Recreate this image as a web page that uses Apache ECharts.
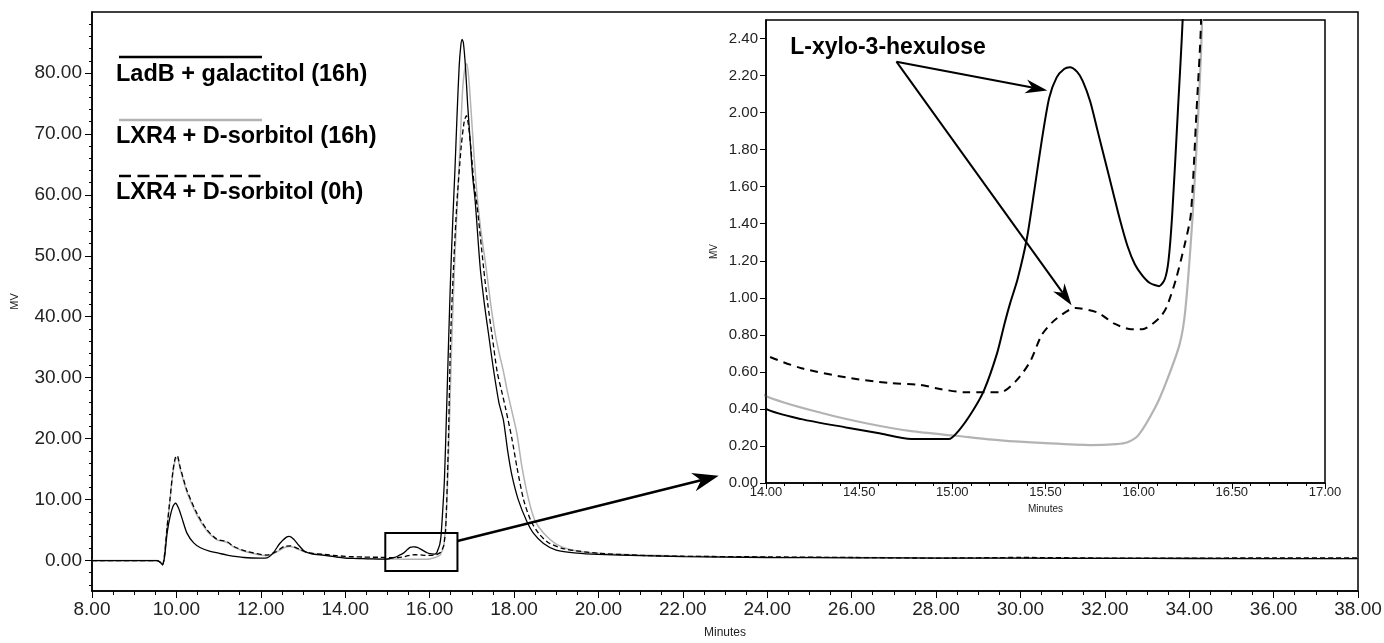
<!DOCTYPE html>
<html>
<head>
<meta charset="utf-8">
<script src="https://cdn.jsdelivr.net/npm/echarts@6/dist/echarts.min.js"></script>
<style>
  html, body { margin: 0; padding: 0; background: #fff; }
  #main { width: 1384px; height: 643px; }
</style>
</head>
<body>
<div id="main"></div>
<script>
// chromatogram traces, [minutes, mV]
var ladbGal16h = [
  [8.0,0],[9.55,0],[9.62,-0.3],[9.67,-0.7],[9.72,0.6],[9.78,4.5],[9.85,7.2],[9.92,8.9],[9.98,9.4],[10.05,8.6],
  [10.13,7.0],[10.25,4.5],[10.41,2.9],[10.57,2.1],[10.8,1.5],[11.0,1.2],[11.2,0.9],[11.6,0.5],[12.0,0.4],[12.15,0.45],
  [12.3,1.3],[12.45,2.8],[12.6,3.8],[12.68,3.95],[12.78,3.5],[12.9,2.5],[13.02,1.6],[13.2,1.1],[13.5,0.85],[13.8,0.55],
  [14.0,0.40],[14.19,0.345],[14.43,0.30],[14.6,0.27],[14.78,0.237],[14.98,0.237],[15.04,0.29],[15.11,0.39],[15.17,0.50],
  [15.24,0.70],[15.28,0.86],[15.31,0.97],[15.35,1.1],[15.4,1.32],[15.44,1.58],[15.48,1.85],[15.52,2.08],[15.56,2.19],
  [15.6,2.235],[15.63,2.245],[15.67,2.22],[15.7,2.17],[15.74,2.06],[15.78,1.9],[15.82,1.74],[15.86,1.58],[15.9,1.42],
  [15.94,1.28],[15.98,1.18],[16.02,1.12],[16.06,1.08],[16.11,1.063],[16.14,1.1],[16.16,1.2],[16.18,1.45],[16.21,2.0],
  [16.24,2.6],[16.27,4],[16.3,7],[16.35,13],[16.4,24],[16.45,36],
  [16.5,47],[16.55,56],[16.6,64],[16.65,73],[16.7,81],[16.74,84.5],[16.77,85.5],[16.8,85],[16.85,81],[16.9,75],
  [16.96,69],[17.02,63],[17.08,59],[17.2,48],[17.3,42],[17.4,37],[17.5,32],[17.64,26],[17.75,23],[17.85,18],
  [17.95,14],[18.1,10],[18.3,6.5],[18.46,4.5],[18.7,2.8],[19.0,1.7],[19.5,1.2],[20,1.0],[21,0.8],[22,0.65],
  [24,0.5],[26,0.45],[28,0.4],[30,0.38],[32,0.35],[34,0.33],[36,0.3],[38,0.3]
];
var lxrSorb16h = [
  [8,0],[9.55,0],[9.62,-0.3],[9.67,-0.7],[9.72,1.0],[9.78,5.5],[9.85,10],[9.92,14.5],[9.98,16.7],[10.02,16.8],
  [10.09,15.0],[10.25,11.2],[10.49,7.4],[10.73,4.8],[10.96,3.4],[11.1,3.2],[11.25,2.8],[11.36,2.2],[11.67,1.4],
  [12.15,0.8],[12.35,1.3],[12.55,2.1],[12.7,2.3],[12.9,1.8],[13.1,1.3],[13.5,0.9],[13.8,0.62],[14.0,0.47],
  [14.31,0.375],[14.55,0.32],[14.78,0.28],[15.02,0.255],[15.26,0.23],[15.5,0.215],[15.74,0.205],[15.88,0.21],
  [15.94,0.22],[16.0,0.26],[16.09,0.41],[16.15,0.55],[16.22,0.75],[16.25,0.93],[16.29,1.45],[16.32,2.0],[16.34,2.5],
  [16.4,8],[16.45,18],[16.5,30],[16.53,37],[16.6,50],[16.66,59],[16.72,68],[16.78,77],[16.83,80.5],[16.88,81.5],
  [16.93,79],[17.0,72],[17.1,62],[17.2,55],[17.34,48],[17.45,42],[17.56,37],[17.65,34],[17.75,31],[17.85,27.5],
  [17.95,24.5],[18.07,20.8],[18.19,15.3],[18.35,9.9],[18.5,6.5],[18.7,4.5],[19.0,2.7],[19.4,1.7],[20,1.2],[21,0.9],
  [22,0.75],[24,0.55],[26,0.5],[28,0.45],[30,0.42],[32,0.4],[34,0.38],[36,0.35],[38,0.35]
];
var lxrSorb0h = [
  [8,0],[9.55,0],[9.62,-0.3],[9.67,-0.7],[9.72,1.0],[9.78,5.5],[9.85,10.2],[9.92,14.8],[9.98,17.0],[10.02,17.2],
  [10.09,15.3],[10.25,11.5],[10.49,7.7],[10.73,5.0],[10.96,3.5],[11.2,3.1],[11.36,2.3],[11.67,1.5],[12.15,0.9],
  [12.35,1.4],[12.55,2.3],[12.7,2.4],[12.9,1.9],[13.1,1.3],[13.5,1.0],[13.8,0.8],[14.0,0.69],[14.19,0.62],
  [14.43,0.57],[14.66,0.54],[14.83,0.53],[14.92,0.51],[15.07,0.49],[15.26,0.49],[15.35,0.56],[15.42,0.66],
  [15.48,0.8],[15.55,0.88],[15.66,0.945],[15.78,0.92],[15.87,0.86],[15.96,0.83],[16.02,0.83],[16.11,0.89],
  [16.15,0.95],[16.2,1.1],[16.25,1.3],[16.28,1.45],[16.31,2.0],[16.335,2.5],[16.38,5],[16.44,18],[16.5,37],
  [16.58,50],[16.65,59],[16.75,68],[16.82,72],[16.87,73],[16.92,71.5],[16.98,67.5],[17.05,62],[17.12,58.5],
  [17.28,48],[17.38,42],[17.48,37],[17.6,31],[17.7,28],[17.8,25],[17.95,20],[18.07,15.3],[18.23,9.9],[18.4,6.5],
  [18.58,4.5],[18.8,3],[19.2,1.9],[20,1.2],[21,0.85],[22,0.7],[24,0.6],[26,0.5],[28,0.4],[30,0.5],[32,0.4],
  [34,0.38],[36,0.45],[38,0.45]
];

var seriesNames = ['LadB + galactitol (16h)', 'LXR4 + D-sorbitol (16h)', 'LXR4 + D-sorbitol (0h)'];
var mainYLabels = [0, 10, 20, 30, 40, 50, 60, 70, 80];
var insetYLabels = [0, 0.2, 0.4, 0.6, 0.8, 1.0, 1.2, 1.4, 1.6, 1.8, 2.0, 2.2, 2.4];
var peakLabel = 'L-xylo-3-hexulose';

var mainMinorY = [];
for (var v = -4; v <= 88; v += 2) mainMinorY.push(v);

var FONT = "'Liberation Sans', Arial, sans-serif";
function fmt2(v) { return v.toFixed(2); }

var myChart = echarts.init(document.getElementById('main'));

function lineSeries(name, data, grid, color, type, width) {
  return {
    name: name,
    type: 'line',
    xAxisIndex: grid,
    yAxisIndex: grid,
    data: data,
    showSymbol: false,
    smooth: 0.25,
    clip: true,
    animation: false,
    lineStyle: { color: color, width: width, type: type },
    z: grid === 1 ? 5 : 2
  };
}

var option = {
  animation: false,
  grid: [
    { left: 92, right: 26, top: 12, bottom: 52, outerBoundsMode: 'none', containLabel: false,
      show: true, borderColor: '#000', borderWidth: 1.5, backgroundColor: '#fff' },
    { left: 766, right: 59, top: 20, bottom: 160, outerBoundsMode: 'none', containLabel: false,
      show: true, borderColor: '#000', borderWidth: 1.5, backgroundColor: '#fff', z: 3 }
  ],
  xAxis: [
    {
      type: 'value', gridIndex: 0, min: 8, max: 38, interval: 2,
      axisLine: { onZero: false, lineStyle: { color: '#000', width: 1.5 } },
      axisTick: { length: 7, lineStyle: { color: '#000' } },
      minorTick: { show: true, splitNumber: 4, length: 4, lineStyle: { color: '#000' } },
      axisLabel: { formatter: fmt2, fontFamily: FONT, fontSize: 19, color: '#222', margin: 9 },
      splitLine: { show: false },
      name: 'Minutes', nameLocation: 'middle', nameGap: 36,
      nameTextStyle: { fontFamily: FONT, fontSize: 12, color: '#222' }
    },
    {
      type: 'value', gridIndex: 1, min: 14, max: 17, interval: 0.5, z: 6,
      axisLine: { onZero: false, lineStyle: { color: '#000', width: 1.5 } },
      axisTick: { length: 6, lineStyle: { color: '#000' } },
      minorTick: { show: true, splitNumber: 5, length: 3, lineStyle: { color: '#000' } },
      axisLabel: { formatter: fmt2, fontFamily: FONT, fontSize: 13, color: '#222', margin: 3 },
      splitLine: { show: false },
      name: 'Minutes', nameLocation: 'middle', nameGap: 17,
      nameTextStyle: { fontFamily: FONT, fontSize: 10, color: '#222' }
    }
  ],
  yAxis: [
    {
      type: 'value', gridIndex: 0, min: -5, max: 90,
      axisLine: { show: true, lineStyle: { color: '#000', width: 1.5 } },
      axisTick: { show: true, length: 7, customValues: mainYLabels, lineStyle: { color: '#000' } },
      axisLabel: { customValues: mainYLabels, formatter: fmt2, fontFamily: FONT, fontSize: 19, color: '#222', margin: 10 },
      splitLine: { show: false },
      name: 'MV', nameLocation: 'middle', nameGap: 72,
      nameTextStyle: { fontFamily: FONT, fontSize: 11, color: '#222' }
    },
    {
      type: 'value', gridIndex: 1, min: 0, max: 2.5, z: 6,
      axisLine: { show: true, lineStyle: { color: '#000', width: 1.5 } },
      axisTick: { show: true, length: 6, customValues: insetYLabels, lineStyle: { color: '#000' } },
      axisLabel: { customValues: insetYLabels, formatter: fmt2, fontFamily: FONT, fontSize: 15, color: '#222', margin: 8 },
      splitLine: { show: false },
      name: 'MV', nameLocation: 'middle', nameGap: 47,
      nameTextStyle: { fontFamily: FONT, fontSize: 10, color: '#222' }
    },
    {
      // minor ticks for the main y axis
      type: 'value', gridIndex: 0, min: -5, max: 90, position: 'left', offset: 0,
      axisLine: { show: false },
      axisTick: { show: true, length: 3, customValues: mainMinorY, lineStyle: { color: '#000' } },
      axisLabel: { show: false },
      splitLine: { show: false }
    }
  ],
  series: [
    lineSeries(seriesNames[1], lxrSorb16h, 0, '#b3b3b3', 'solid', 1.5),
    lineSeries(seriesNames[2], lxrSorb0h, 0, '#000', [5, 3], 1.3),
    lineSeries(seriesNames[0], ladbGal16h, 0, '#000', 'solid', 1.3),
    lineSeries(seriesNames[1], lxrSorb16h, 1, '#b3b3b3', 'solid', 2.2),
    lineSeries(seriesNames[2], lxrSorb0h, 1, '#000', [8, 6], 2),
    lineSeries(seriesNames[0], ladbGal16h, 1, '#000', 'solid', 2)
  ]
};
myChart.setOption(option);

/* 箭头 */
function arrow(p1, p2, headLen, headW, lw) {
  var dx = p2[0] - p1[0], dy = p2[1] - p1[1];
  var len = Math.sqrt(dx * dx + dy * dy);
  var ux = dx / len, uy = dy / len, nx = -uy, ny = ux;
  var bx = p2[0] - ux * headLen, by = p2[1] - uy * headLen;
  var notch = [bx + ux * headLen * 0.3, by + uy * headLen * 0.3];
  return [
    { type: 'line', z: 20, shape: { x1: p1[0], y1: p1[1], x2: notch[0], y2: notch[1] },
      style: { stroke: '#000', lineWidth: lw } },
    { type: 'polygon', z: 20, shape: { points: [
        [p2[0], p2[1]],
        [bx + nx * headW / 2, by + ny * headW / 2],
        notch,
        [bx - nx * headW / 2, by - ny * headW / 2]
      ] }, style: { fill: '#000' } }
  ];
}

function px(grid, x, y) { return myChart.convertToPixel({ gridIndex: grid }, [x, y]); }

var boxA = px(0, 14.95, 4.5), boxB = px(0, 16.66, -1.7);
var graphics = [
  { type: 'rect', z: 20, shape: { x: boxA[0], y: boxA[1], width: boxB[0] - boxA[0], height: boxB[1] - boxA[1] },
    style: { fill: null, stroke: '#000', lineWidth: 2 } }
];
graphics = graphics.concat(arrow(px(0, 16.66, 3.2), px(0, 22.85, 13.9), 26, 19, 2.5));

var labPos = px(1, 14.13, 2.35);
var origin = px(1, 14.70, 2.275);
graphics.push({ type: 'text', z: 20, x: labPos[0], y: labPos[1],
  style: { text: peakLabel, font: 'bold 23px ' + FONT, fill: '#000', verticalAlign: 'middle' } });
graphics = graphics.concat(arrow(origin, px(1, 15.51, 2.12), 22, 14, 2));
graphics = graphics.concat(arrow(origin, px(1, 15.64, 0.96), 22, 14, 2));

/* 图例 */
var legendStyles = [
  { stroke: '#000', lineDash: null },
  { stroke: '#b3b3b3', lineDash: null },
  { stroke: '#000', lineDash: [12, 6.5] }
];
var legendLineY = [57, 120, 176];
var legendTextY = [75, 137, 193];
for (var i = 0; i < 3; i++) {
  graphics.push({ type: 'line', z: 20, shape: { x1: 119, y1: legendLineY[i], x2: 262, y2: legendLineY[i] },
    style: { stroke: legendStyles[i].stroke, lineWidth: 2.5, lineDash: legendStyles[i].lineDash } });
  graphics.push({ type: 'text', z: 20, x: 116, y: legendTextY[i],
    style: { text: seriesNames[i], font: 'bold 23.5px ' + FONT, fill: '#000', verticalAlign: 'middle' } });
}
myChart.setOption({ graphic: graphics });
</script>
</body>
</html>
